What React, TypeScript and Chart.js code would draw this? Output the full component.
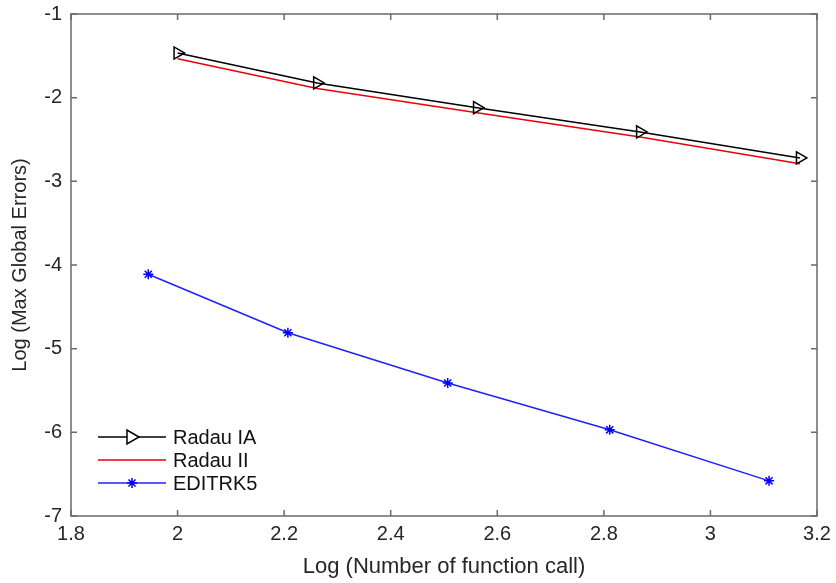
import React, { useEffect, useRef } from "react";
import { Chart, registerables } from "chart.js";

Chart.register(...registerables);

const radauIAX = [2.0, 2.262, 2.562, 2.868, 3.168];
const radauIAY = [-1.466, -1.824, -2.12, -2.41, -2.72];
const radauIIX = [2.0, 2.262, 2.562, 2.868, 3.168];
const radauIIY = [-1.535, -1.89, -2.18, -2.47, -2.79];
const editX = [1.945, 2.207, 2.507, 2.811, 3.11];
const editY = [-4.11, -4.81, -5.41, -5.97, -6.58];

const seriesNames = ["Radau IA", "Radau II", "EDITRK5"];
const xTickValues = [1.8, 2, 2.2, 2.4, 2.6, 2.8, 3, 3.2];
const yTickValues = [-7, -6, -5, -4, -3, -2, -1];

const FONT = "'Liberation Sans', Arial, Helvetica, sans-serif";
const AXIS_COLOR = "#6a6a6a";
const TEXT_COLOR = "#262626";

function toPoints(xs: number[], ys: number[]) {
  return xs.map((x, i) => ({ x, y: ys[i] }));
}

const boxPlugin = {
  id: "boxTicks",
  afterDatasetsDraw(chart: any) {
    const { ctx, chartArea, scales } = chart;
    const { left, right, top, bottom } = chartArea;
    ctx.save();
    ctx.strokeStyle = AXIS_COLOR;
    ctx.lineWidth = 1.5;
    ctx.strokeRect(left, top, right - left, bottom - top);
    const tl = 6;
    ctx.beginPath();
    xTickValues.forEach((v) => {
      const px = scales.x.getPixelForValue(v);
      ctx.moveTo(px, bottom);
      ctx.lineTo(px, bottom - tl);
      ctx.moveTo(px, top);
      ctx.lineTo(px, top + tl);
    });
    yTickValues.forEach((v) => {
      const py = scales.y.getPixelForValue(v);
      ctx.moveTo(left, py);
      ctx.lineTo(left + tl, py);
      ctx.moveTo(right, py);
      ctx.lineTo(right - tl, py);
    });
    ctx.stroke();

    // legend
    const rows = [437, 460, 483];
    const x0 = 98;
    const x1 = 166;
    const mx = 132;
    ctx.font = `20px ${FONT}`;
    ctx.textBaseline = "middle";
    ctx.textAlign = "left";
    chart.data.datasets.forEach((ds: any, i: number) => {
      const y = rows[i];
      ctx.strokeStyle = ds.borderColor;
      ctx.lineWidth = ds.borderWidth;
      ctx.beginPath();
      ctx.moveTo(x0, y);
      ctx.lineTo(x1, y);
      ctx.stroke();
      if (i === 0) {
        ctx.fillStyle = "#ffffff";
        ctx.strokeStyle = ds.pointBorderColor;
        ctx.lineWidth = 1.5;
        ctx.beginPath();
        ctx.moveTo(mx + 7, y);
        ctx.lineTo(mx - 5, y - 7);
        ctx.lineTo(mx - 5, y + 7);
        ctx.closePath();
        ctx.fill();
        ctx.stroke();
      } else if (i === 2) {
        ctx.strokeStyle = ds.pointBorderColor;
        ctx.lineWidth = 1.5;
        const r = 5;
        ctx.beginPath();
        for (let k = 0; k < 4; k++) {
          const a = (k * Math.PI) / 4;
          ctx.moveTo(mx - r * Math.cos(a), y - r * Math.sin(a));
          ctx.lineTo(mx + r * Math.cos(a), y + r * Math.sin(a));
        }
        ctx.stroke();
      }
      ctx.fillStyle = "#111";
      ctx.fillText(seriesNames[i], 173, y + 1);
    });
    ctx.restore();
  },
};

export default function App() {
  const ref = useRef<HTMLCanvasElement | null>(null);
  useEffect(() => {
    document.body.style.margin = "0";
    const canvas = ref.current!;
    const chart = new Chart(canvas, {
      type: "scatter",
      data: {
        datasets: [
          {
            label: seriesNames[0],
            data: toPoints(radauIAX, radauIAY),
            showLine: true,
            borderColor: "#000000",
            borderWidth: 1.5,
            pointStyle: "triangle",
            rotation: 90,
            pointRadius: 7,
            pointBackgroundColor: "rgba(255,255,255,0)",
            pointBorderColor: "#000000",
            pointBorderWidth: 1.5,
            order: 1,
          },
          {
            label: seriesNames[1],
            data: toPoints(radauIIX, radauIIY),
            showLine: true,
            borderColor: "#e8000b",
            borderWidth: 1.5,
            pointRadius: 0,
            order: 2,
          },
          {
            label: seriesNames[2],
            data: toPoints(editX, editY),
            showLine: true,
            borderColor: "#2020ff",
            borderWidth: 1.5,
            pointStyle: "star",
            pointRadius: 5,
            pointBorderColor: "#0000ff",
            pointBackgroundColor: "#0000ff",
            pointBorderWidth: 1.5,
            order: 3,
          },
        ],
      },
      options: {
        animation: false,
        responsive: false,
        maintainAspectRatio: false,
        layout: { padding: { left: 0, right: 19, top: 14, bottom: 0 } },
        plugins: {
          legend: { display: false },
          tooltip: { enabled: false },
        },
        scales: {
          x: {
            type: "linear",
            min: 1.8,
            max: 3.2,
            afterBuildTicks: (s: any) => {
              s.ticks = xTickValues.map((v) => ({ value: v }));
            },
            afterFit: (s: any) => {
              s.height = 67;
              s.paddingLeft = 0;
              s.paddingRight = 0;
            },
            grid: { display: false, drawTicks: false },
            border: { display: false },
            ticks: {
              padding: 6,
              color: TEXT_COLOR,
              font: { family: FONT, size: 20 },
              maxRotation: 0,
              callback: (v: any) => String(Number(Number(v).toFixed(1))),
            },
            title: {
              display: true,
              text: "Log (Number of function call)",
              color: TEXT_COLOR,
              font: { family: FONT, size: 22 },
              padding: { top: 0, bottom: 3 },
            },
          },
          y: {
            type: "linear",
            min: -7,
            max: -1,
            afterBuildTicks: (s: any) => {
              s.ticks = yTickValues.map((v) => ({ value: v }));
            },
            afterFit: (s: any) => {
              s.width = 71;
              s.paddingTop = 0;
              s.paddingBottom = 0;
            },
            grid: { display: false, drawTicks: false },
            border: { display: false },
            ticks: {
              padding: 9,
              color: TEXT_COLOR,
              font: { family: FONT, size: 20 },
              callback: (v: any) => String(v),
            },
            title: {
              display: true,
              text: "Log (Max Global Errors)",
              color: TEXT_COLOR,
              font: { family: FONT, size: 20 },
              padding: { top: 8, bottom: 0 },
            },
          },
        },
      },
      plugins: [boxPlugin],
    });
    return () => chart.destroy();
  }, []);
  return (
    <div style={{ width: 836, height: 583, background: "#fff" }}>
      <canvas ref={ref} width={836} height={583} style={{ display: "block" }} />
    </div>
  );
}
